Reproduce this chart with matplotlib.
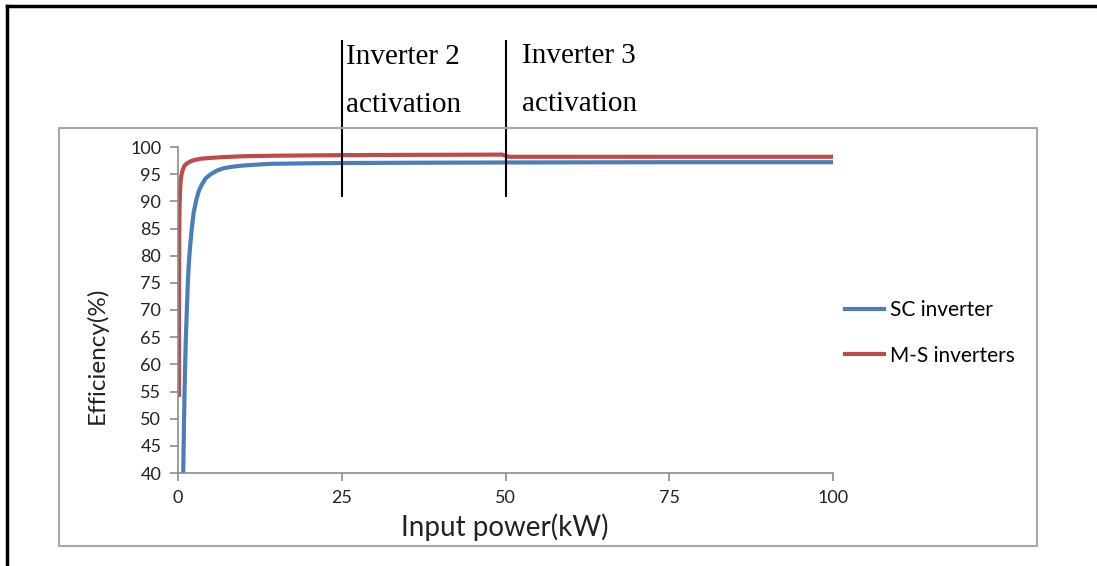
import numpy as np
import matplotlib
matplotlib.use('Agg')
import matplotlib.pyplot as plt
from matplotlib.patches import Rectangle
from matplotlib.lines import Line2D

plt.rcParams['font.family'] = ['Lato', 'DejaVu Sans']

# SC inverter efficiency curve
sc_power = [0.8, 0.9, 1.0, 1.1, 1.2, 1.35, 1.5, 1.65, 1.8, 2.1, 2.4, 2.8, 3.2, 3.6, 4.2,
            5.0, 6.0, 7.0, 8.5, 10, 14, 20, 25, 35, 50, 75, 100]
sc_eff = [40, 48, 55, 60, 65, 70, 75, 78.5, 81, 85, 88, 90.3, 92, 93, 94.2,
          95, 95.7, 96.1, 96.4, 96.6, 96.9, 97.0, 97.05, 97.1, 97.15, 97.2, 97.2]

# Master-slave inverters efficiency curve
ms_power = [0.15, 0.16, 0.18, 0.22, 0.3, 0.4, 0.55, 0.75, 1.0, 1.5, 2.0, 2.5, 3.5, 5.0,
            7.0, 10, 15, 25, 35, 49.5, 50.5, 75, 100]
ms_eff = [54, 70, 82, 88, 91.5, 93.8, 95, 95.9, 96.6, 97.1, 97.4, 97.6, 97.85, 98.0,
          98.15, 98.3, 98.4, 98.5, 98.55, 98.6, 98.2, 98.2, 98.2]

activations = [25, 50]
activation_labels = ['Inverter 2\nactivation', 'Inverter 3\nactivation']

W, H = 1097, 566
fig = plt.figure(figsize=(W / 100, H / 100), dpi=100)
ax = fig.add_axes([178 / W, 1 - 473 / H, (833 - 178) / W, (473 - 147) / H])

blue = '#4a7ebb'
red = '#be4b48'
ax.plot(sc_power, sc_eff, color=blue, lw=3, solid_capstyle='butt', label='SC inverter')
ax.plot(ms_power, ms_eff, color=red, lw=3, solid_capstyle='butt', label='M-S inverters')

ax.set_xlim(0, 100)
ax.set_ylim(40, 100)
ax.set_xticks([0, 25, 50, 75, 100])
ax.set_yticks(np.arange(40, 101, 5))
for s in ['top', 'right']:
    ax.spines[s].set_visible(False)
for s in ['left', 'bottom']:
    ax.spines[s].set_color('#8c8c8c')
    ax.spines[s].set_linewidth(1.2)
ax.tick_params(direction='out', length=6, width=1.2, color='#8c8c8c',
               labelsize=13, labelcolor='#222222', pad=6)

# activation markers
ax.vlines(activations, 90.8, 119.7, color='black', lw=1.5, clip_on=False)
fig.text(346 / W, 1 - 81 / H, activation_labels[0], family='Liberation Serif', fontsize=21,
         va='center', ha='left', linespacing=2.1)
fig.text(522 / W, 1 - 80 / H, activation_labels[1], family='Liberation Serif', fontsize=21,
         va='center', ha='left', linespacing=2.1)

fig.text(505 / W, 1 - 527 / H, 'Input power(kW)', ha='center', va='center', fontsize=20,
         color='#222222')
fig.text(97 / W, 1 - 355 / H, 'Efficiency(%)', ha='center', va='center', rotation=90,
         fontsize=17.5, color='#222222')

handles = [Line2D([], [], color=blue, lw=3), Line2D([], [], color=red, lw=3)]
fig.legend(handles, ['SC inverter', 'M-S inverters'], loc='center left',
           bbox_to_anchor=(826 / W, 1 - 333 / H), frameon=False, fontsize=15,
           handlelength=1.9, handletextpad=0.25, labelspacing=1.2)

# chart area frame and outer border
fig.add_artist(Rectangle((59 / W, 1 - 546 / H), (1037 - 59) / W, (546 - 128) / H,
                         transform=fig.transFigure, fill=False, ec='#a6a6a6', lw=1.5))
fig.add_artist(Line2D([7 / W, 7 / W], [0, 1 - 6 / H], transform=fig.transFigure,
                      color='black', lw=2.5))
fig.add_artist(Line2D([7 / W, 1], [1 - 6 / H, 1 - 6 / H], transform=fig.transFigure,
                      color='black', lw=2.5))

fig.savefig('out.png', dpi=100)
